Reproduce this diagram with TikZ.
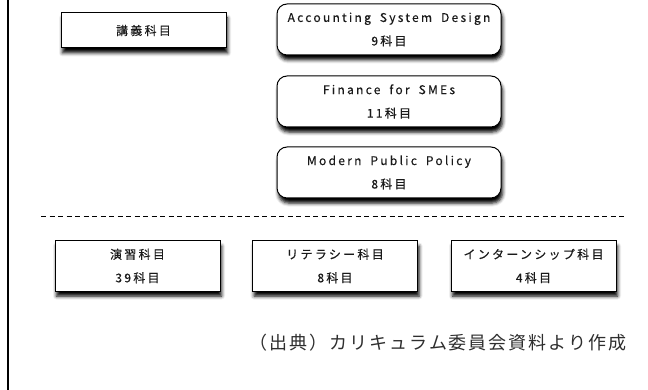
\documentclass[tikz,border=0pt]{standalone}
\usepackage{fontspec}
\setmainfont{Noto Sans CJK JP}[LetterSpace=19, FakeBold=0.3, WordSpace=1.8]
\newfontfamily\notefont{Noto Sans CJK JP}[LetterSpace=11]
\definecolor{boxText}{HTML}{1A1A1A}
\definecolor{noteText}{HTML}{2E2E2E}
\usetikzlibrary{positioning,shadows.blur}

\begin{document}
\begin{tikzpicture}[x=1pt, y=-1pt,
  course/.style={draw=black, line width=1pt, fill=white, text=boxText,
    minimum width=165pt, minimum height=50pt, align=center, inner sep=0pt,
    font=\fontsize{12}{23.5}\selectfont,
    blur shadow={shadow xshift=1.5pt, shadow yshift=-5pt,
      shadow blur radius=3.5pt, shadow opacity=100}},
  program/.style={course, rounded corners=10pt, minimum width=224pt, minimum height=51pt}
]
  \useasboundingbox (0,0) rectangle (648,390);
  \draw[line width=1.3pt] (8,0) -- (8,390);

  % lectures
  \node[course, minimum height=35pt] (lecture) at (143.5,30.5) {講義科目};
  \node[program] (acc) at (389,29.5) {Accounting System Design\\9科目};
  \node[program, below=20pt of acc] (fin) {Finance for SMEs\\11科目};
  \node[program, below=19pt of fin] (pol) {Modern Public Policy\\8科目};

  \draw[line width=0.8pt, dash pattern=on 5pt off 3.5pt] (41,216) -- (625,216);

  % other courses
  \node[course] (practice) at (137.5,266) {演習科目\\39科目};
  \node[course] (literacy) at (335,266) {リテラシー科目\\8科目};
  \node[course] (intern) at (533.5,266) {インターンシップ科目\\4科目};

  \node[font=\notefont\fontsize{18}{20}\selectfont, text=noteText, anchor=east]
    (source) at (630,343) {（出典）カリキュラム委員会資料より作成};
\end{tikzpicture}
\end{document}
